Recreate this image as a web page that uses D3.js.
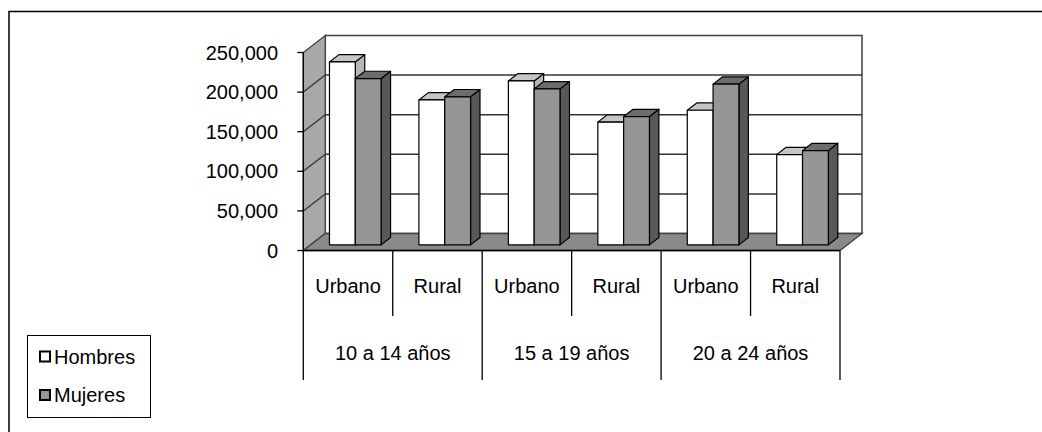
<!DOCTYPE html>
<html>
<head>
<meta charset="utf-8">
<script src="https://cdn.jsdelivr.net/npm/d3@7"></script>
<style>
  body { margin: 0; background: #fff; }
  svg { display: block; }
  text { font-family: "Liberation Sans", Arial, sans-serif; font-size: 20px; fill: #000; }
</style>
</head>
<body>
<svg id="chart" width="1042" height="432"></svg>
<script>
// Population by age group, area and sex
const categories = ["Urbano", "Rural", "Urbano", "Rural", "Urbano", "Rural"];
const groups = ["10 a 14 años", "15 a 19 años", "20 a 24 años"];
const series = ["Hombres", "Mujeres"];
const hombres = [231000, 183000, 207000, 155000, 170000, 114000];
const mujeres = [210000, 187000, 197000, 162000, 203000, 119000];
const yTicks = [0, 50000, 100000, 150000, 200000, 250000];

const svg = d3.select("#chart");

// Front plane of the 3-D box
const left = 303.3, right = 840, yBase = 250.5, yTop = 52.5;
// Depth vector (full box depth) and the depth span occupied by the columns
const DX = 22, DY = -17, d0 = 0.33, d1 = 0.76;

const xCat = d3.scaleBand().domain(d3.range(categories.length)).range([left, right]).padding(0);
const xSer = d3.scaleBand().domain(series).range([0, xCat.bandwidth()]).paddingInner(0).paddingOuter(0.733);
const y = d3.scaleLinear().domain([0, 250000]).range([yBase, yTop]);

const P = (x, v, d) => [x + d * DX, y(v) + d * DY];
const poly = pts => "M" + pts.map(p => p.join(",")).join("L") + "Z";

const colors = {
  Hombres: { front: "#ffffff", top: "#c6c6c6", side: "#b6b6b6" },
  Mujeres: { front: "#969696", top: "#6c6c6c", side: "#585858" }
};

const vMax = y.domain()[1];

// Back wall
svg.append("path")
  .attr("d", poly([P(left, 0, 1), P(right, 0, 1), P(right, vMax, 1), P(left, vMax, 1)]))
  .attr("fill", "#fff").attr("stroke", "#404040").attr("stroke-width", 1.5);

// Back-wall gridlines
svg.append("g").selectAll("path").data(yTicks.filter(t => t > 0 && t < vMax)).join("path")
  .attr("d", t => "M" + P(left, t, 1).join(",") + "L" + P(right, t, 1).join(","))
  .attr("stroke", "#333").attr("stroke-width", 1.5).attr("fill", "none");

// Side wall
svg.append("path")
  .attr("d", poly([P(left, 0, 0), P(left, 0, 1), P(left, vMax, 1), P(left, vMax, 0)]))
  .attr("fill", "#a8a8a8").attr("stroke", "#404040").attr("stroke-width", 1.3);

svg.append("g").selectAll("path").data(yTicks.filter(t => t > 0 && t < vMax)).join("path")
  .attr("d", t => "M" + P(left, t, 0).join(",") + "L" + P(left, t, 1).join(","))
  .attr("stroke", "#333").attr("stroke-width", 1.3).attr("fill", "none");

// Floor
svg.append("path")
  .attr("d", poly([P(left, 0, 0), P(right, 0, 0), P(right, 0, 1), P(left, 0, 1)]))
  .attr("fill", "#8a8a8a").attr("stroke", "#404040").attr("stroke-width", 1.3);

// Columns
const bars = [];
categories.forEach((c, i) => {
  series.forEach((s, j) => {
    bars.push({ i, s, v: (s === "Hombres" ? hombres : mujeres)[i] });
  });
});

const barG = svg.append("g").selectAll("g").data(bars).join("g");
barG.each(function (b) {
  const g = d3.select(this);
  const xl = xCat(b.i) + xSer(b.s);
  const xr = xl + xSer.bandwidth();
  const col = colors[b.s];
  g.append("path")
    .attr("d", poly([P(xr, 0, d0), P(xr, 0, d1), P(xr, b.v, d1), P(xr, b.v, d0)]))
    .attr("fill", col.side).attr("stroke", "#000").attr("stroke-width", 1.2).attr("stroke-linejoin", "round");
  g.append("path")
    .attr("d", poly([P(xl, b.v, d0), P(xr, b.v, d0), P(xr, b.v, d1), P(xl, b.v, d1)]))
    .attr("fill", col.top).attr("stroke", "#000").attr("stroke-width", 1.2).attr("stroke-linejoin", "round");
  g.append("path")
    .attr("d", poly([P(xl, 0, d0), P(xr, 0, d0), P(xr, b.v, d0), P(xl, b.v, d0)]))
    .attr("fill", col.front).attr("stroke", "#000").attr("stroke-width", 1.2).attr("stroke-linejoin", "round");
});

// Value axis
svg.append("line")
  .attr("x1", left).attr("x2", left).attr("y1", y(0)).attr("y2", y(vMax))
  .attr("stroke", "#000").attr("stroke-width", 1.3);
const yAxis = svg.append("g");
yAxis.selectAll("line").data(yTicks).join("line")
  .attr("x1", left - 6).attr("x2", left).attr("y1", d => y(d)).attr("y2", d => y(d))
  .attr("stroke", "#000").attr("stroke-width", 1.3);
const fmt = d3.format(",");
yAxis.selectAll("text").data(yTicks).join("text")
  .attr("x", 278).attr("y", d => y(d)).attr("dy", "0.35em")
  .attr("text-anchor", "end").text(d => fmt(d));

// Category axis: front edge, dividers and labels
svg.append("line")
  .attr("x1", left).attr("x2", right).attr("y1", yBase).attr("y2", yBase)
  .attr("stroke", "#000").attr("stroke-width", 1.3);

const dividers = d3.range(categories.length + 1).map(k => ({
  x: k < categories.length ? xCat(k) : right,
  long: k % 2 === 0
}));
svg.append("g").selectAll("line").data(dividers).join("line")
  .attr("x1", d => d.x).attr("x2", d => d.x)
  .attr("y1", yBase).attr("y2", d => d.long ? 380 : 316)
  .attr("stroke", "#000").attr("stroke-width", 1.3);

svg.append("g").selectAll("text").data(categories).join("text")
  .attr("x", (d, i) => xCat(i) + xCat.bandwidth() / 2).attr("y", 293)
  .attr("text-anchor", "middle").text(d => d);

svg.append("g").selectAll("text").data(groups).join("text")
  .attr("x", (d, g) => xCat(g * 2) + xCat.bandwidth()).attr("y", 360)
  .attr("text-anchor", "middle").text(d => d);

// Legend
const legend = svg.append("g");
legend.append("rect").attr("x", 27.5).attr("y", 335.5).attr("width", 123).attr("height", 82)
  .attr("fill", "#fff").attr("stroke", "#000").attr("stroke-width", 1);
const li = legend.selectAll("g").data(series).join("g")
  .attr("transform", (d, k) => `translate(0,${k * 38.5})`);
li.append("rect").attr("x", 40).attr("y", 351.5).attr("width", 10).attr("height", 10)
  .attr("fill", d => colors[d].front).attr("stroke", "#000").attr("stroke-width", 2);
li.append("text").attr("x", 54).attr("y", 363.5).text(d => d);

// Chart area border
svg.append("rect").attr("x", 9).attr("y", 11.5).attr("width", 1200).attr("height", 600)
  .attr("fill", "none").attr("stroke", "#000").attr("stroke-width", 1.5);
</script>
</body>
</html>
